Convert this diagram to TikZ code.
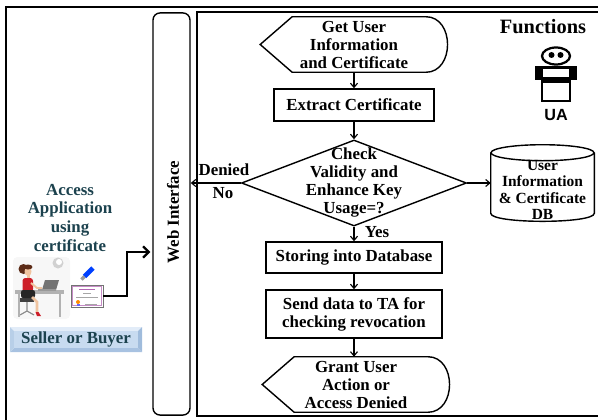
\documentclass[tikz,border=0pt]{standalone}
\usepackage{fontspec}
\setmainfont{Liberation Serif}
\newfontfamily\uafont{Liberation Sans}
\usetikzlibrary{arrows.meta,calc,shapes.geometric}
\definecolor{myteal}{RGB}{28,66,78}
\definecolor{myskin}{RGB}{240,196,160}
\definecolor{myhair}{RGB}{92,44,24}
\definecolor{myred}{RGB}{205,30,40}

\tikzset{
  flowtext/.style={font=\bfseries\fontsize{12}{12.8}\selectfont, align=center},
  procbox/.style={flowtext, draw, line width=1pt, inner sep=0pt},
  termbox/.style={flowtext, inner sep=0pt, minimum width=4.675cm, minimum height=1.375cm},
  decision/.style={diamond, draw, line width=1pt, inner sep=0pt, minimum width=5.625cm, minimum height=2.15cm},
  dbtext/.style={font=\bfseries\fontsize{11}{11.8}\selectfont, align=center, inner sep=0pt, minimum width=2.575cm, minimum height=1.85cm},
  sidetext/.style={font=\bfseries\fontsize{12}{13.5}\selectfont, align=center, text=myteal},
  flowarr/.style={-{Straight Barb[length=3pt,width=5pt]}, line width=0.8pt},
  userarr/.style={-{Straight Barb[length=4pt,width=8pt]}, line width=1.6pt},
}

% terminal outline: pointed left end, rounded right end
\newcommand{\termshape}[1]{%
  \draw[line width=1pt] (#1.west) -- ($(#1.north west)+(32,0)$) -- ($(#1.north east)+(-22,0)$)
    .. controls ($(#1.north east)+(7,0)$) and ($(#1.south east)+(7,0)$) .. ($(#1.south east)+(-22,0)$)
    -- ($(#1.south west)+(32,0)$) -- cycle;}

\begin{document}
\begin{tikzpicture}[x=0.025cm,y=-0.025cm]
\useasboundingbox (0,0) rectangle (598,420);
\clip (0,0) rectangle (598,420);

% frames
\draw[line width=1.4pt] (6,7) rectangle (660,470);
\draw[line width=1pt] (197,12) rectangle (660,416);

\node[draw, line width=1pt, rounded corners=5pt, minimum width=0.925cm, minimum height=10.05cm] (web) at (171.5,214) {};
\node[flowtext, rotate=90] (webtext) at (173,212) {Web Interface};

% flow chart
\node[termbox] (get) at (354,44.5) {Get User\\Information\\and Certificate};
\termshape{get}
\node[procbox, minimum width=4cm, minimum height=0.8cm] (extract) at (354,105) {Extract Certificate};
\node[decision, label={[flowtext]center:{Check\\Validity and\\Enhance Key\\Usage=?}}] (check) at (354,183) {};
\node[procbox, minimum width=4.4cm, minimum height=0.775cm] (store) at (354,257.5) {Storing into Database};
\node[procbox, minimum width=4.4cm, minimum height=1.2cm] (send) at (354,314) {Send data to TA for\\checking revocation};
\node[termbox] (grant) at (356,384.5) {Grant User\\Action or\\Access Denied};
\termshape{grant}

\draw[flowarr] (get.south) -- (extract.north);
\draw[flowarr] (extract.south) -- (check.north);
\draw[flowarr] (check.south) -- (store.north);
\draw[flowarr] (store.south) -- (send.north);
\draw[flowarr] (send.south) -- (send.south |- grant.north);
\draw[flowarr] (check.west) -- (check.west -| web.east);

\node[flowtext] (denied) at (224,170) {Denied};
\node[flowtext] (no) at (223,193) {No};
\node[flowtext] (yes) at (377,232) {Yes};

% database
\node[dbtext] (userdb) at (542.5,190) {User\\Information\\\& Certificate\\DB};
\draw[line width=1pt] (userdb.north) ellipse (51.5 and 8);
\draw[line width=1pt] (userdb.north west) -- ($(userdb.south west)+(0,-14)$)
  .. controls ($(userdb.south west)+(0,-3.3)$) and ($(userdb.south east)+(0,-3.3)$) .. ($(userdb.south east)+(0,-14)$)
  -- (userdb.north east);
\draw[flowarr] (check.east) -- (check.east -| userdb.west);

% functions and agent
\node[font=\bfseries\fontsize{14.5}{15}\selectfont] (func) at (543,27) {Functions};
\begin{scope}[shift={(556,0)}]
\draw[line width=1.6pt] (0,56) ellipse (14 and 8.5);
\fill (-4.5,55) circle (3);
\fill (4.5,55) circle (3);
\draw[line width=1.6pt] (-14,67) rectangle (14,101);
\fill (-14,77) rectangle (14,83);
\fill (-21,66) rectangle (-14,80);
\fill (14,66) rectangle (21,80);
\fill (-21,66) rectangle (21,69.5);
\node[font=\uafont\bfseries\fontsize{11.5}{12}\selectfont] (ua) at (0,115) {UA};
\end{scope}

% user side
\node[sidetext] (access) at (70,218) {Access\\Application\\using\\certificate};

\fill[rounded corners=3pt, color=black!3] (13,257) rectangle (70,319);
\fill[black!18] (58,263) circle (5.5);
\fill[white] (59,262) circle (3);
\draw[black!45, line width=0.8pt] (27,302) -- (27,311) (20,315) -- (27,311) -- (34,315);
\fill[black!75] (19,298) rectangle (34,302);
\fill[black!30] (15,290) rectangle (64,293.5);
\fill[black!30] (18,293) rectangle (20,317);
\fill[black!30] (59,293) rectangle (61,317);
\fill[black!55] (45,280) -- (59,280) -- (56,290) -- (42,290) -- cycle;
\fill[black!40] (38,289) rectangle (56,291);
\fill[myhair] (23.5,269) circle (5);
\fill[myskin] (28,271.5) ellipse (3.5 and 4.5);
\fill[myhair] (28,267) ellipse (4.5 and 2.5);
\fill[myskin] (27,275) rectangle (29.5,279);
\fill[myred, rounded corners=2pt] (22.5,278) rectangle (33,292);
\draw[myskin, line width=1.4pt] (31,283) -- (37,288) -- (42,288);
\fill[black!85, rounded corners=1.5pt] (21,290) rectangle (35,298);
\draw[myskin, line width=1.8pt] (32,297) -- (37,302) -- (37,312);
\fill[myred] (35.5,312) -- (38.5,312) -- (41,316) -- (37,316) -- cycle;
\draw[blue!75!cyan, line width=3.5pt] (84.5,276.5) -- (93,268);
\draw[black!40, line width=2.5pt] (81.5,279.5) -- (84.5,276.5);

\node[draw=black!55, fill=white, line width=0.6pt, minimum width=0.8cm, minimum height=0.55cm] (cert) at (87,296) {};
\draw[violet!45, line width=0.4pt] ($(cert.north west)+(2,2)$) rectangle ($(cert.south east)+(-2,-2)$);
\draw[violet!60, line width=0.6pt] (79,289.5) -- (95,289.5);
\draw[black!35, line width=0.3pt] (83,293) -- (91,293) (76,297) -- (98,297) (85,304) -- (97,304);
\fill[orange!90!yellow] (78,302) circle (2);
\fill[blue!60] (76.5,304) rectangle (79.5,305.5);

\coordinate (bend) at (127,252);
\draw[userarr] (cert.east) -| (bend) -- ($(bend -| web.west)+(-2,0)$);

\fill[color={rgb,255:red,226;green,236;blue,248}] (10,327) -- (142,327) -- (138,331) -- (14,331) -- cycle;
\fill[color={rgb,255:red,168;green,194;blue,225}] (10,352) -- (142,352) -- (138,348) -- (14,348) -- cycle;
\fill[color={rgb,255:red,184;green,207;blue,232}] (10,327) -- (14,331) -- (14,348) -- (10,352) -- cycle;
\fill[color={rgb,255:red,160;green,188;blue,220}] (142,327) -- (138,331) -- (138,348) -- (142,352) -- cycle;
\fill[color={rgb,255:red,200;green,219;blue,240}] (14,331) rectangle (138,348);
\node[sidetext] (seller) at (76,339.5) {Seller or Buyer};
\end{tikzpicture}
\end{document}
